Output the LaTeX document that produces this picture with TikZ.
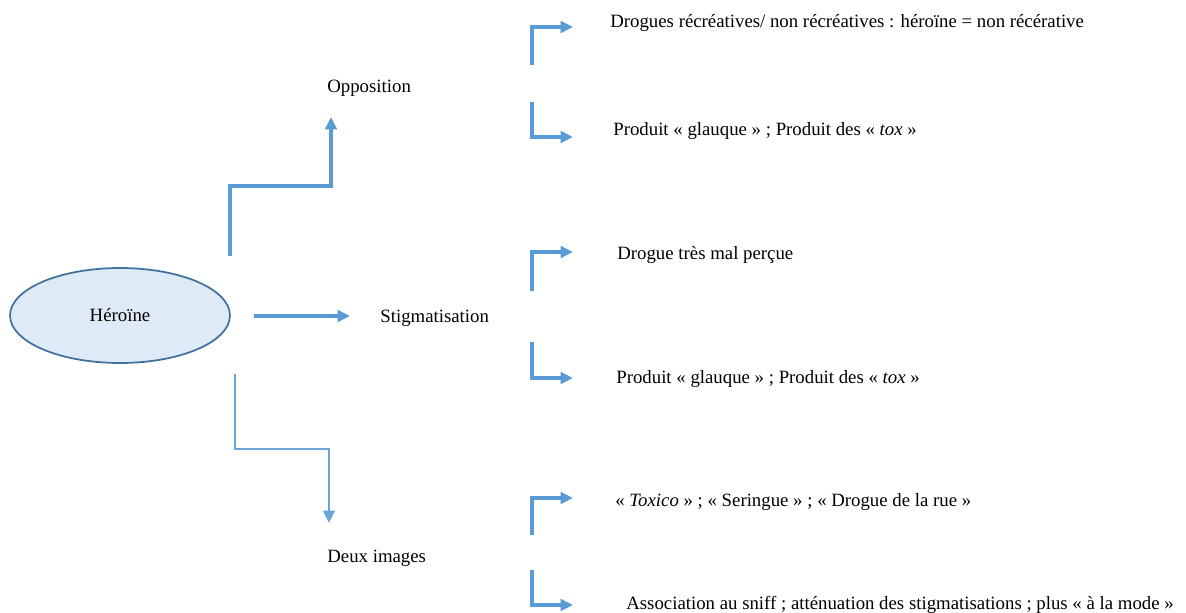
\documentclass[tikz,border=0pt]{standalone}
\usepackage{fontspec}
\setmainfont{Liberation Serif}
\usetikzlibrary{shapes.geometric,arrows.meta}
\definecolor{lineblue}{RGB}{91,155,213}
\definecolor{paleblue}{RGB}{222,235,247}
\definecolor{edgeblue}{RGB}{65,113,156}
\tikzset{
  conn/.style={draw=lineblue, line width=1.9pt, -{Triangle[length=7pt,width=6.5pt]}},
  thinconn/.style={conn, line width=1.2pt, draw=lineblue!90},
  txt/.style={inner sep=0pt, anchor=base west}
}
\begin{document}
\begin{tikzpicture}[x=0.02cm, y=-0.02cm, font=\fontsize{10.7}{12.8}\selectfont]
    \useasboundingbox (0,0) rectangle (1186,612);
    % centre
    \node[ellipse, draw=edgeblue, fill=paleblue, line width=1pt, minimum width=4.4cm, minimum height=1.9cm, inner sep=0pt] (hero) at (120,315.5) {Héroïne};
    \node[txt] (opp) at (327,92) {Opposition};
    \node[txt] (stig) at (380,322) {Stigmatisation};
    \node[txt] (deux) at (327,562) {Deux images};
    % branches
    \coordinate (o0) at (230,256);
    \coordinate (o1) at (331,186);
    \coordinate (o2) at (331,117);
    \draw[conn] (o0) |- (o1) -- (o2);
    \coordinate (s0) at (254,316);
    \coordinate (s1) at (350,316);
    \draw[conn] (s0) -- (s1);
    \coordinate (d0) at (235,374);
    \coordinate (d1) at (329,449);
    \coordinate (d2) at (329,523);
    \draw[thinconn] (d0) |- (d1) -- (d2);
    % Opposition
    \node[txt] (opp1) at (610,28) {Drogues récréatives/ non récréatives : héroïne = non récérative};
    \node[txt] (opp2) at (613,135) {Produit « glauque » ; Produit des « \textit{tox} »};
    \coordinate (oa) at (532,65);
    \coordinate (ob) at (573,27);
    \draw[conn] (oa) |- (ob);
    \coordinate (oc) at (532,102);
    \coordinate (od) at (573,137);
    \draw[conn] (oc) |- (od);
    % Stigmatisation
    \node[txt] (stig1) at (617,259) {Drogue très mal perçue};
    \node[txt] (stig2) at (616,383) {Produit « glauque » ; Produit des « \textit{tox} »};
    \coordinate (sa) at (532,291);
    \coordinate (sb) at (573,252);
    \draw[conn] (sa) |- (sb);
    \coordinate (sc) at (532,342);
    \coordinate (sd) at (573,378);
    \draw[conn] (sc) |- (sd);
    % Deux images
    \node[txt] (deux1) at (615,506) {« \textit{Toxico} » ; « Seringue » ; « Drogue de la rue »};
    \node[txt] (deux2) at (626,609) {Association au sniff ; atténuation des stigmatisations ; plus « à la mode »};
    \coordinate (da) at (532,535);
    \coordinate (db) at (573,498);
    \draw[conn] (da) |- (db);
    \coordinate (dc) at (532,570);
    \coordinate (dd) at (573,605);
    \draw[conn] (dc) |- (dd);
\end{tikzpicture}
\end{document}
